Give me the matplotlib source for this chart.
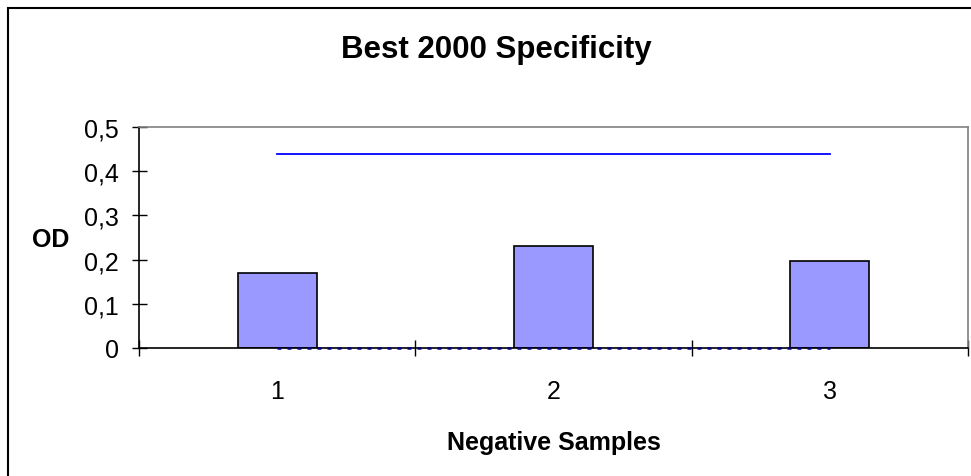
import matplotlib
matplotlib.use("Agg")
import matplotlib.pyplot as plt
from matplotlib.patches import Rectangle

# donnees
echantillons = [1, 2, 3]
od_valeurs = [0.17, 0.231, 0.197]
seuil = [0.44, 0.44, 0.44]
zero_ligne = [0, 0, 0]
graduations_y = [0, 0.1, 0.2, 0.3, 0.4, 0.5]
etiquettes_y = ["0", "0,1", "0,2", "0,3", "0,4", "0,5"]
etiquettes_x = ["1", "2", "3"]

plt.rcParams['font.family'] = ['Liberation Sans', 'DejaVu Sans']

fig = plt.figure(figsize=(9.71, 4.77), dpi=100)
ax = fig.add_axes([139 / 971, 1 - 349 / 477, (968 - 139) / 971, (349 - 128) / 477])

ax.bar(echantillons, od_valeurs, width=0.286, color='#9999FF',
       edgecolor='black', linewidth=1.2, zorder=2)
ax.plot(echantillons, seuil, color='#0000FF', linewidth=1.3, zorder=3)
ax.plot(echantillons, zero_ligne, color='#000080', linewidth=1.8,
        dashes=(1.6, 2.4), zorder=4, clip_on=False)

ax.set_xlim(0.5, 3.5)
ax.set_ylim(0, 0.5)

ax.set_yticks(graduations_y)
ax.set_yticklabels(etiquettes_y)
ax.tick_params(axis='y', direction='inout', length=10.8, width=1,
               pad=9, labelsize=18)

# graduations majeures entre les categories, etiquettes au centre
ax.set_xticks([0.5, 1.5, 2.5, 3.5])
ax.set_xticklabels([])
ax.set_xticks(echantillons, minor=True)
ax.set_xticklabels(etiquettes_x, minor=True)
ax.tick_params(axis='x', which='major', direction='inout', length=11.5, width=1)
ax.tick_params(axis='x', which='minor', length=0, pad=22, labelsize=18)

for cote in ['top', 'right']:
    ax.spines[cote].set_color('#808080')
    ax.spines[cote].set_linewidth(1.2)
for cote in ['left', 'bottom']:
    ax.spines[cote].set_color('black')
    ax.spines[cote].set_linewidth(1.2)

fig.text(496 / 971, 1 - 58 / 477, "Best 2000 Specificity", fontsize=22.5,
         fontweight='bold', ha='center', va='baseline')
fig.text(554 / 971, 1 - 450 / 477, "Negative Samples", fontsize=18,
         fontweight='bold', ha='center', va='baseline')
fig.text(51 / 971, 1 - 240 / 477, "OD", fontsize=18,
         fontweight='bold', ha='center', va='center')

# cadre exterieur du graphique
cadre = Rectangle((8 / 971, -0.1), 1.5, 1.1 - 9 / 477, transform=fig.transFigure,
                  fill=False, edgecolor='black', linewidth=1.5, clip_on=False)
fig.patches.append(cadre)

plt.savefig('out.png', dpi=100)
